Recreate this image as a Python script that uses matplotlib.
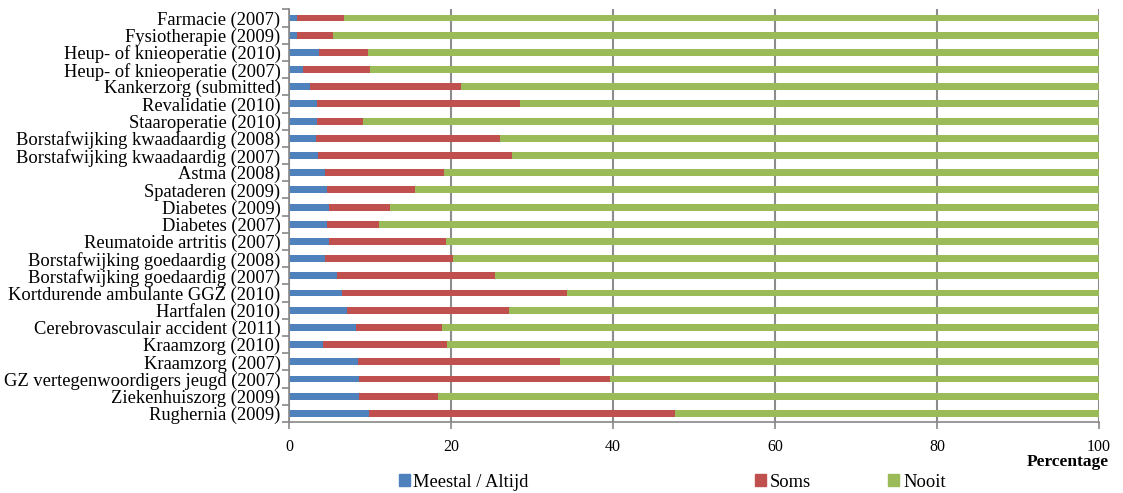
import numpy as np
import matplotlib
matplotlib.use("Agg")
import matplotlib.pyplot as plt
from matplotlib.patches import Patch

plt.rcParams['font.family'] = ['Liberation Serif', 'DejaVu Serif']

categories = [
    "Farmacie (2007)",
    "Fysiotherapie (2009)",
    "Heup- of knieoperatie (2010)",
    "Heup- of knieoperatie (2007)",
    "Kankerzorg (submitted)",
    "Revalidatie (2010)",
    "Staaroperatie (2010)",
    "Borstafwijking kwaadaardig (2008)",
    "Borstafwijking kwaadaardig (2007)",
    "Astma (2008)",
    "Spataderen (2009)",
    "Diabetes (2009)",
    "Diabetes (2007)",
    "Reumatoide artritis (2007)",
    "Borstafwijking goedaardig (2008)",
    "Borstafwijking goedaardig (2007)",
    "Kortdurende ambulante GGZ (2010)",
    "Hartfalen (2010)",
    "Cerebrovasculair accident (2011)",
    "Kraamzorg (2010)",
    "Kraamzorg (2007)",
    "GZ vertegenwoordigers jeugd (2007)",
    "Ziekenhuiszorg (2009)",
    "Rughernia (2009)",
]

meestal = [1.0, 1.0, 3.7, 1.7, 2.6, 3.5, 3.5, 3.4, 3.6, 4.5, 4.7, 4.9,
           4.7, 5.0, 4.4, 5.9, 6.5, 7.2, 8.3, 4.2, 8.5, 8.7, 8.7, 9.9]
soms = [5.8, 4.4, 6.0, 8.3, 18.6, 25.0, 5.6, 22.6, 23.9, 14.7, 10.9, 7.6,
        6.4, 14.4, 15.8, 19.5, 27.8, 20.0, 10.6, 15.3, 25.0, 30.9, 9.7, 37.8]
nooit = [100 - a - b for a, b in zip(meestal, soms)]

blauw = "#4F81BD"
rood = "#C0504D"
groen = "#9BBB59"

fig = plt.figure(figsize=(11.23, 4.93), dpi=100)
ax = fig.add_axes([0.2573, 0.144, 0.9786 - 0.2573, 0.981 - 0.144])

y = np.arange(len(categories))
h = 0.4
ax.barh(y, meestal, height=h, color=blauw, zorder=2)
ax.barh(y, soms, left=meestal, height=h, color=rood, zorder=2)
ax.barh(y, nooit, left=np.add(meestal, soms), height=h, color=groen, zorder=2)

ax.set_ylim(len(categories) - 0.5, -0.5)
ax.set_xlim(0, 100)
ax.set_yticks(y)
ax.set_yticklabels(categories, fontsize=13.3)
ax.tick_params(axis='y', length=0, pad=6)
ax.set_yticks(np.arange(-0.5, len(categories)), minor=True)
ax.tick_params(axis='y', which='minor', length=5, color='#888888', width=1.2)

ax.set_xticks(np.arange(0, 101, 20))
ax.tick_params(axis='x', length=5, color='#888888', width=1.2, labelsize=11.5, pad=7)
ax.xaxis.grid(True, color='#8c8c8c', linewidth=1.5, zorder=0)
ax.set_axisbelow(True)

for s in ['top', 'right']:
    ax.spines[s].set_visible(False)
for s in ['left', 'bottom']:
    ax.spines[s].set_color('#888888')
    ax.spines[s].set_linewidth(1.2)

fig.text(0.987, 0.062, "Percentage", ha='right', va='center', fontsize=12.5, fontweight='bold')

# legenda: drie losse items onder de grafiek
items = [("Meestal / Altijd", blauw, 0.355), ("Soms", rood, 0.672), ("Nooit", groen, 0.791)]
for label, kleur, xpos in items:
    fig.legend(handles=[Patch(color=kleur, label=label)], loc='center left',
               bbox_to_anchor=(xpos, 0.022), frameon=False, fontsize=13.3,
               handlelength=0.6, handleheight=0.6, handletextpad=0.2,
               borderpad=0, borderaxespad=0)

fig.savefig("out.png", dpi=100)
